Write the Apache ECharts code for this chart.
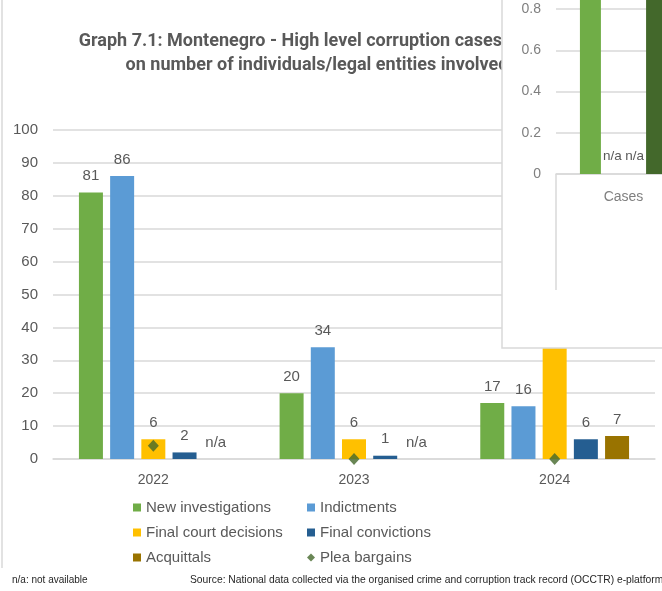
<!DOCTYPE html>
<html>
<head>
<meta charset="utf-8">
<script src="https://cdn.jsdelivr.net/npm/echarts@6/dist/echarts.min.js"></script>
<style>
  html, body { margin: 0; padding: 0; background: #fff; }
  #chart { width: 662px; height: 591px; }
</style>
</head>
<body>
<div id="chart"></div>
<script>
// main chart data
const years = ['2022', '2023', '2024']
const newInvestigations = [81, 20, 17]
const indictments = [86, 34, 16]
const finalCourtDecisions = [6, 6, 40] // 2024 value hidden behind the inset
const finalConvictions = [2, 1, 6]
const acquittals = [null, null, 7] // null = n/a
const pleaBargains = [4, 0, 0]
const yTicks = { min: 0, max: 100, step: 10 }

// inset chart data (partly visible, top right)
const insetCategories = ['Cases']
const insetFirst = [1]
const insetNaA = [null]
const insetNaB = [null]
const insetLast = [1]

const grey = '#595959'
const gridGrey = '#d9d9d9'
const font = 'Liberation Sans, Arial, sans-serif'

const chart = echarts.init(document.getElementById('chart'))

const valueLabel = {
  show: true,
  position: 'top',
  distance: 9,
  color: grey,
  fontSize: 15,
  fontFamily: font,
  formatter: p => (p.data && p.data.na) ? 'n/a' : p.value
}

const mainBar = (name, data, color) => ({
  name,
  type: 'bar',
  xAxisIndex: 0,
  yAxisIndex: 0,
  barWidth: 24,
  barGap: '30%',
  itemStyle: { color },
  label: valueLabel,
  data: data.map(v => v === null ? { value: 0, na: true } : v)
})

const insetBar = (name, data, color) => ({
  name,
  type: 'bar',
  xAxisIndex: 1,
  yAxisIndex: 1,
  z: 120,
  barWidth: 21,
  barGap: '5%',
  itemStyle: { color },
  label: Object.assign({}, valueLabel, { fontSize: 13.5, distance: 11 }),
  data: data.map(v => v === null ? { value: 0, na: true } : v)
})

const legendText = { color: grey, fontSize: 15, fontFamily: font }

chart.setOption({
  animation: false,
  title: {
    text: 'Graph 7.1: Montenegro - High level corruption cases based\non number of individuals/legal entities involved',
    left: 312,
    top: 24,
    textAlign: 'center',
    textStyle: {
      color: grey,
      fontSize: 18,
      fontWeight: 'bold',
      fontFamily: 'Roboto, sans-serif',
      lineHeight: 24
    }
  },
  legend: [
    {
      orient: 'vertical',
      left: 128,
      top: 495,
      itemWidth: 8,
      itemHeight: 8,
      itemGap: 10,
      icon: 'rect',
      textStyle: legendText,
      data: ['New investigations', 'Final court decisions', 'Acquittals']
    },
    {
      orient: 'vertical',
      left: 302,
      top: 495,
      itemWidth: 8,
      itemHeight: 8,
      itemGap: 10,
      textStyle: legendText,
      data: [
        { name: 'Indictments', icon: 'rect' },
        { name: 'Final convictions', icon: 'rect' },
        { name: 'Plea bargains', icon: 'diamond' }
      ]
    }
  ],
  grid: [
    { left: 53, right: 7, top: 130, bottom: 132, outerBoundsMode: 'none' },
    { left: 556, width: 135, bottom: 417, height: 206, z: 110, outerBoundsMode: 'none' }
  ],
  xAxis: [
    {
      type: 'category',
      gridIndex: 0,
      data: years,
      axisLine: { lineStyle: { color: gridGrey, width: 1.5 } },
      axisTick: { show: false },
      axisLabel: { color: grey, fontSize: 14, fontFamily: font, margin: 14 }
    },
    {
      type: 'category',
      gridIndex: 1,
      z: 120,
      data: insetCategories,
      axisLine: { lineStyle: { color: gridGrey, width: 1.5 } },
      axisTick: { show: false },
      axisLabel: { color: '#7f7f7f', fontSize: 14, fontFamily: font, margin: 16 }
    }
  ],
  yAxis: [
    {
      type: 'value',
      gridIndex: 0,
      min: yTicks.min,
      max: yTicks.max,
      interval: yTicks.step,
      axisLine: { show: false },
      axisTick: { show: false },
      splitLine: { lineStyle: { color: gridGrey, width: 1.5 } },
      axisLabel: { color: grey, fontSize: 15, fontFamily: font, margin: 15 }
    },
    {
      type: 'value',
      gridIndex: 1,
      z: 120,
      min: 0,
      max: 1,
      interval: 0.2,
      axisLine: { show: false },
      axisTick: { show: false },
      splitLine: { lineStyle: { color: gridGrey, width: 1.5 } },
      axisLabel: { color: '#7f7f7f', fontSize: 14, fontFamily: font, margin: 15 }
    }
  ],
  series: [
    mainBar('New investigations', newInvestigations, '#70ad47'),
    mainBar('Indictments', indictments, '#5b9bd5'),
    mainBar('Final court decisions', finalCourtDecisions, '#ffc000'),
    mainBar('Final convictions', finalConvictions, '#255e91'),
    mainBar('Acquittals', acquittals, '#997300'),
    {
      name: 'Plea bargains',
      type: 'scatter',
      xAxisIndex: 0,
      yAxisIndex: 0,
      z: 5,
      symbol: 'diamond',
      symbolSize: [11, 12],
      itemStyle: { color: '#43682b' },
      data: pleaBargains
    },
    insetBar('inset 1', insetFirst, '#70ad47'),
    insetBar('inset 2', insetNaA, '#5b9bd5'),
    insetBar('inset 3', insetNaB, '#ffc000'),
    insetBar('inset 4', insetLast, '#43682b')
  ],
  graphic: [
    {
      type: 'line',
      z: 1,
      shape: { x1: 2, y1: 0, x2: 2, y2: 568 },
      style: { stroke: gridGrey, lineWidth: 1.5 }
    },
    {
      type: 'text',
      z: 1,
      left: 12,
      top: 575,
      style: { text: 'n/a: not available', fill: '#262626', fontSize: 10, fontFamily: 'Liberation Sans Narrow, Liberation Sans, sans-serif' }
    },
    {
      type: 'text',
      z: 1,
      left: 190,
      top: 575,
      style: { text: 'Source: National data collected via the organised crime and corruption track record (OCCTR) e-platform', fill: '#262626', fontSize: 10.3, fontFamily: 'Liberation Sans Narrow, Liberation Sans, sans-serif' }
    },
    {
      type: 'rect',
      z: 100,
      shape: { x: 502, y: -2, width: 170, height: 350 },
      style: { fill: '#fff', stroke: gridGrey, lineWidth: 1.5 }
    },
    {
      type: 'line',
      z: 101,
      shape: { x1: 556, y1: 174, x2: 556, y2: 290 },
      style: { stroke: gridGrey, lineWidth: 1.5 }
    }
  ]
})
</script>
</body>
</html>
